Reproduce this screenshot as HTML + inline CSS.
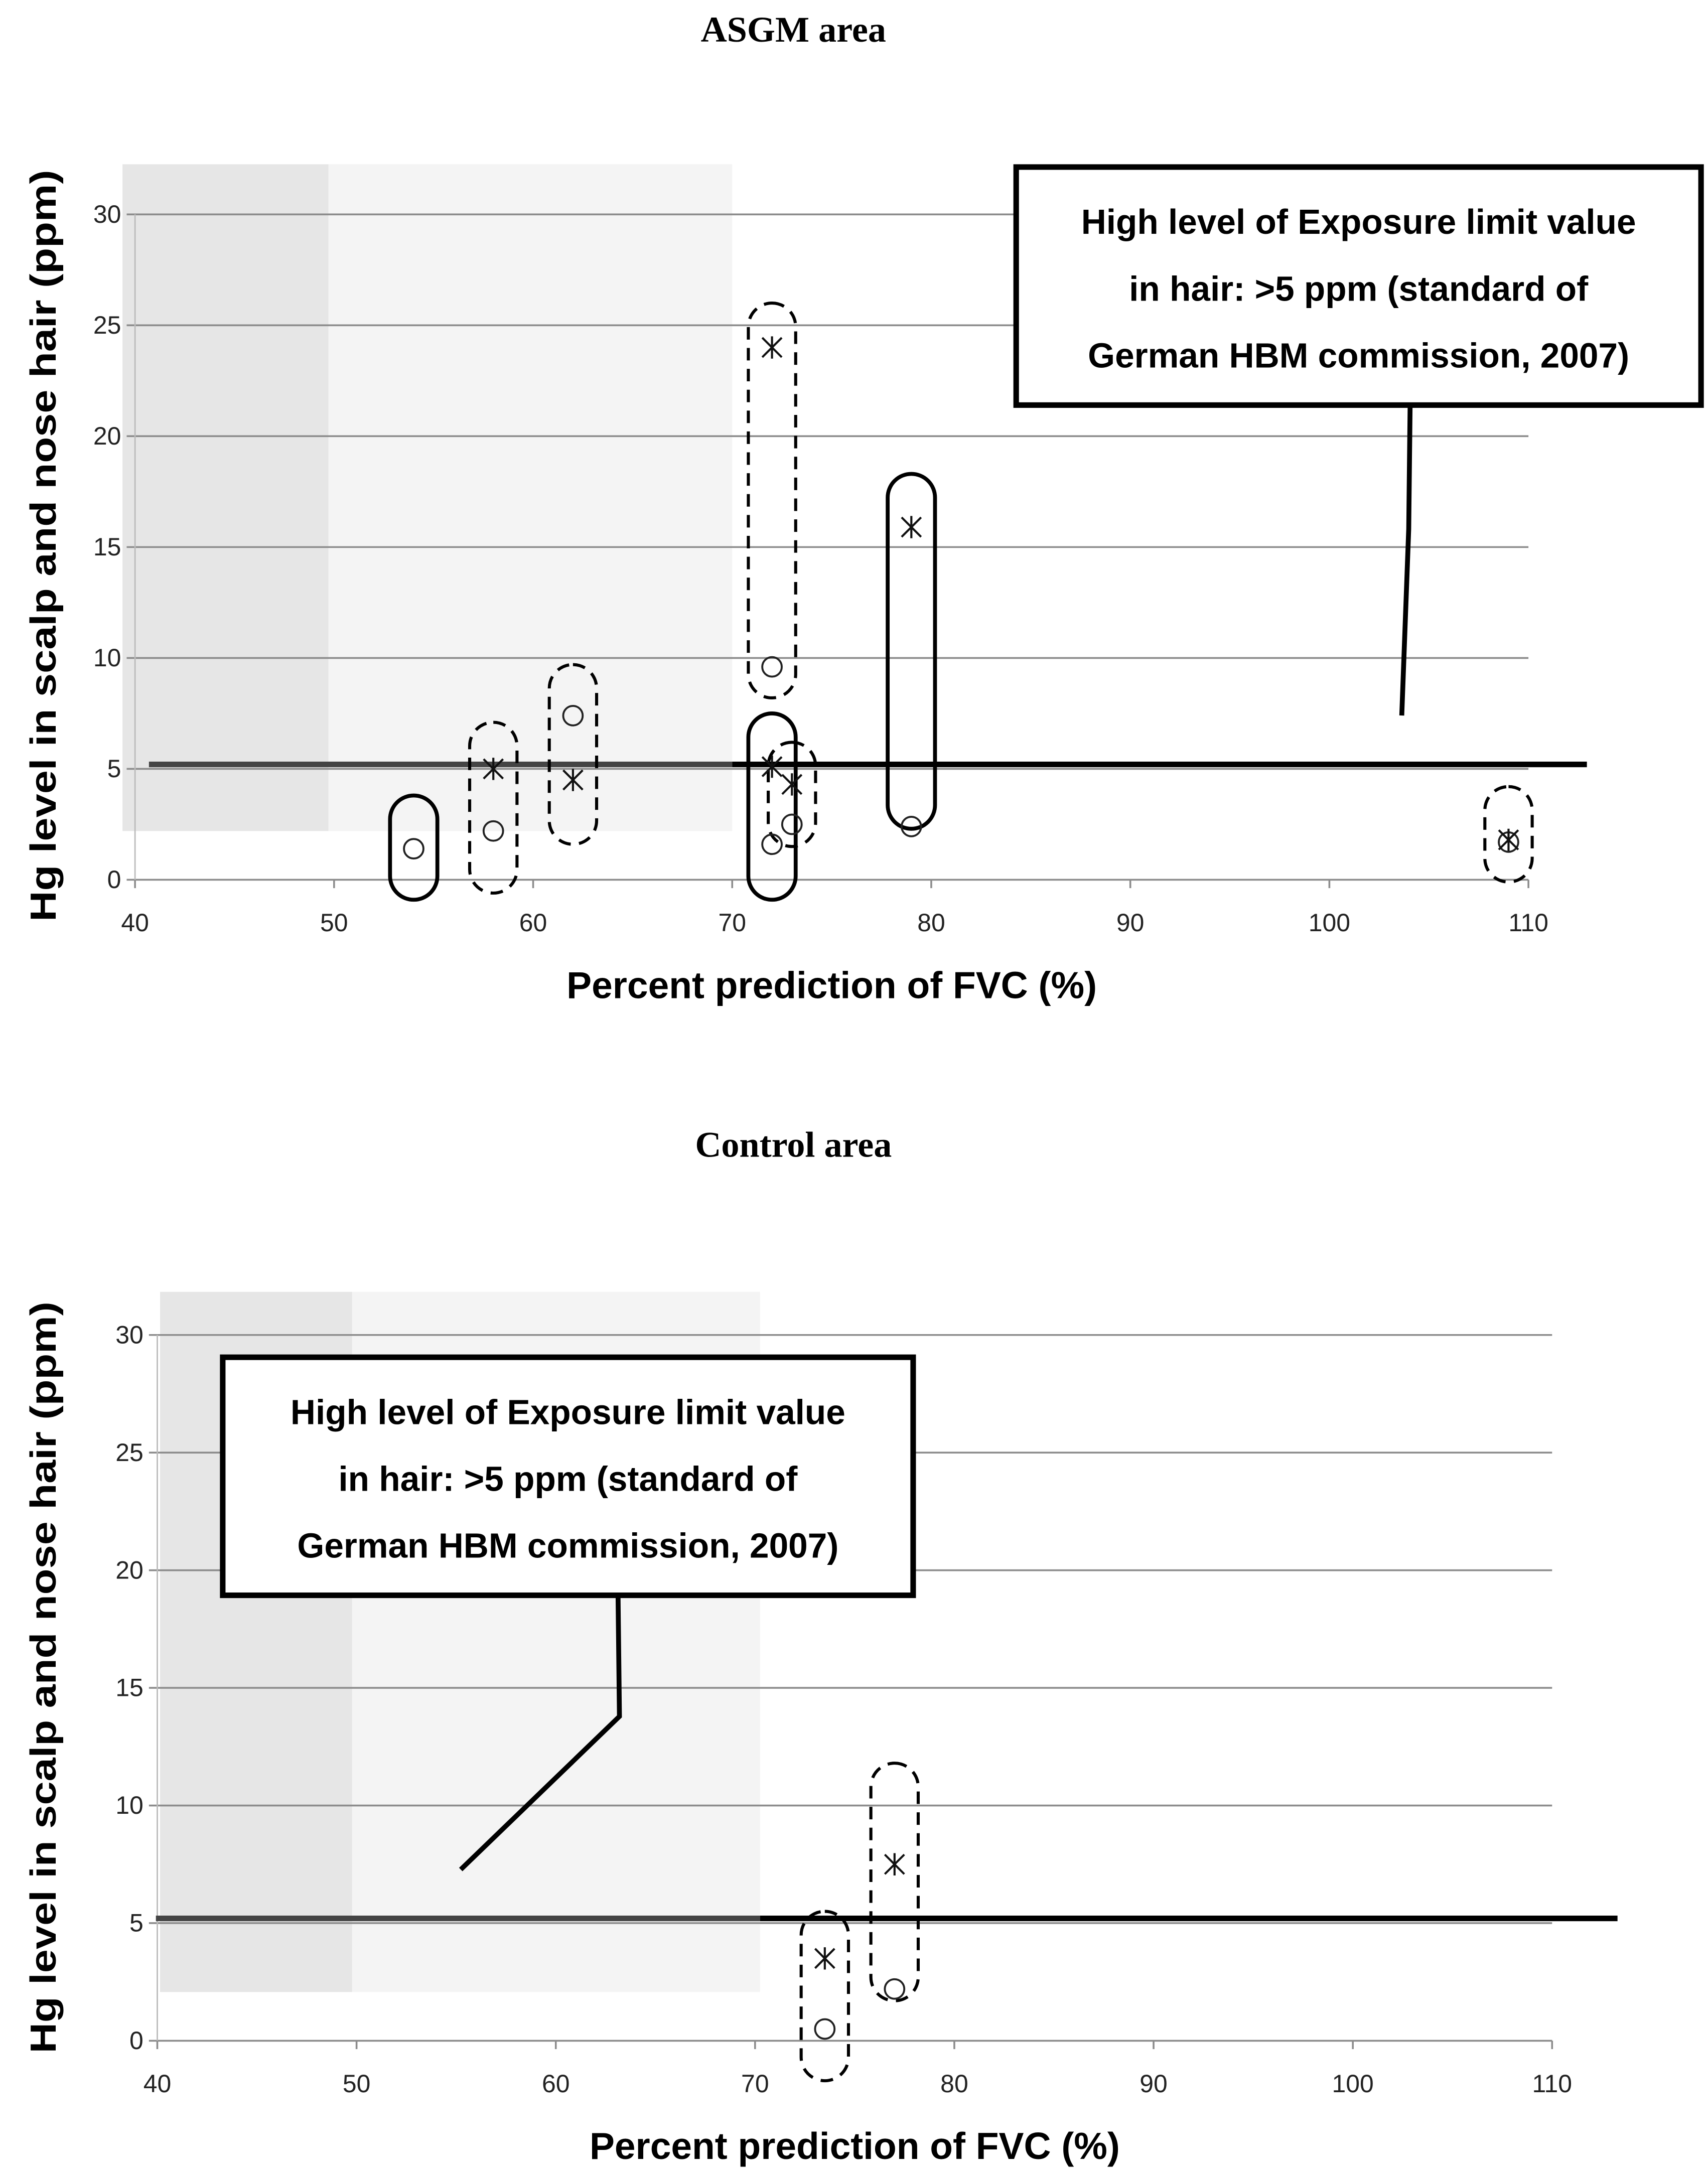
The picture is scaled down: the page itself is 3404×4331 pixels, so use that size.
<!DOCTYPE html>
<html><head><meta charset="utf-8"><style>
html,body{margin:0;padding:0;background:#fff}
svg{display:block}
text{font-family:"Liberation Sans",sans-serif}
.tick{font-family:"Liberation Sans Narrow","Liberation Sans",sans-serif;font-size:18px;fill:#222}
.axl{font-family:"Liberation Sans Narrow","Liberation Sans",sans-serif;font-weight:bold;font-size:27px}
.box{font-family:"Liberation Sans Narrow","Liberation Sans",sans-serif;font-weight:bold;font-size:25px}
.ttl{font-family:"Liberation Serif",serif;font-weight:bold;font-size:26px}
.yl{font-weight:bold;font-size:26px}
</style></head><body>
<svg id="chart" width="3404" height="4331" viewBox="0 0 1227 1561" preserveAspectRatio="none" xmlns="http://www.w3.org/2000/svg"></svg>
<script>
// shared axis ticks
const xTicks = [40,50,60,70,80,90,100,110];
const yTicks = [0,5,10,15,20,25,30];
const limitValue = 5.2;
// ASGM data
const asgmCircleX = [54,58,62,72,72,73,79,109];
const asgmCircleY = [1.4,2.2,7.4,9.6,1.6,2.5,2.4,1.7];
const asgmStarX = [58,62,72,72,73,79,109];
const asgmStarY = [5,4.5,24,5.1,4.3,15.9,1.8];
const asgmGroupX = [54,58,62,72,72,73,79,109];
const asgmGroupLow = [-0.9,-0.6,1.6,8.2,-0.9,1.5,2.3,-0.1];
const asgmGroupHigh = [3.8,7.1,9.7,26,7.5,6.2,18.3,4.2];
const asgmGroupDashed = [0,1,1,1,0,1,0,1];
// Control data
const ctrlCircleX = [73.5,77];
const ctrlCircleY = [0.5,2.2];
const ctrlStarX = [73.5,77];
const ctrlStarY = [3.5,7.5];
const ctrlGroupX = [73.5,77];
const ctrlGroupLow = [-1.7,1.7];
const ctrlGroupHigh = [5.5,11.8];
const ctrlGroupDashed = [1,1];

const NS="http://www.w3.org/2000/svg";
const svg=document.getElementById('chart');
function mk(tag,attrs,parent){const e=document.createElementNS(NS,tag);for(const k in attrs)e.setAttribute(k,attrs[k]);(parent||svg).appendChild(e);return e;}

function drawPanel(p){
  const g=mk('g',{});
  
  
  const sx=v=>p.x0+(v-40)/70*(p.x1-p.x0);
  const sy=v=>p.y0-(v/30)*(p.y0-p.y30);
  const t=mk('text',{x:570,y:p.titleY,'text-anchor':'middle',class:'ttl'},g);t.textContent=p.title;
  
  
  const b1=mk('rect',{x:p.bandX0,y:p.bandTop,width:p.bandX1-p.bandX0,height:p.bandBot-p.bandTop,fill:'#e6e6e6'},g);
  
  
  const b2=mk('rect',{x:p.bandX1,y:p.bandTop,width:p.bandX2-p.bandX1,height:p.bandBot-p.bandTop,fill:'#f4f4f4'},g);
  
  
  yTicks.forEach(v=>{
    const l=mk('line',{x1:p.x0-6,x2:p.x1,y1:sy(v),y2:sy(v),stroke:'#8c8c8c','stroke-width':1.3},g);
    
    
    const tx=mk('text',{x:p.x0-10,y:sy(v)+6,'text-anchor':'end',class:'tick'},g);tx.textContent=v;
    
    
  });
  const ya=mk('line',{x1:p.x0,x2:p.x0,y1:p.y30,y2:p.y0,stroke:'#bbb','stroke-width':1},g);
  
  
  xTicks.forEach(v=>{
    const l=mk('line',{x1:sx(v),x2:sx(v),y1:p.y0,y2:p.y0+6,stroke:'#8c8c8c','stroke-width':1.3},g);
    
    
    const tx=mk('text',{x:sx(v),y:p.y0+37,'text-anchor':'middle',class:'tick'},g);tx.textContent=v;
    
    
  });
  const xl=mk('text',{x:(p.x0+p.x1)/2,y:p.y0+85,'text-anchor':'middle',class:'axl'},g);xl.textContent='Percent prediction of FVC (%)';
  
  
  const cy=p.ylCenter;
  const yl=mk('text',{x:0,y:0,'text-anchor':'middle',class:'yl',textLength:540,lengthAdjust:'spacingAndGlyphs',transform:`translate(40,${cy}) rotate(-90)`},g);yl.textContent='Hg level in scalp and nose hair (ppm)';
  
  
  const ly=sy(limitValue);
  const l1=mk('line',{x1:p.limX0,x2:p.bandX2,y1:ly,y2:ly,stroke:'#444','stroke-width':4},g);
  
  
  const l2=mk('line',{x1:p.bandX2,x2:p.limX1,y1:ly,y2:ly,stroke:'#000','stroke-width':4},g);
  
  
  p.gx.forEach((xv,i)=>{
    const top=sy(p.gh[i]),bot=sy(p.gl[i]),w=p.gw||34;
    const r=mk('rect',{x:sx(xv)-w/2,y:top,width:w,height:bot-top,rx:w/2,ry:w/2,fill:'none',stroke:'#000','stroke-width':p.gd[i]?2.2:2.8,'stroke-dasharray':p.gd[i]?'9,6':'none'},g);
    
    
  });
  p.cx.forEach((xv,i)=>{
    const c=mk('circle',{cx:sx(xv),cy:sy(p.cy[i]),r:7,fill:'none',stroke:'#222','stroke-width':1.4},g);
    
    
  });
  p.sx.forEach((xv,i)=>{
    const X=sx(xv),Y=sy(p.sy[i]),s=7;
    const d=`M${X-s},${Y-s}L${X+s},${Y+s}M${X-s},${Y+s}L${X+s},${Y-s}M${X},${Y-s-1}L${X},${Y+s+1}`;
    const st=mk('path',{d:d,stroke:'#111','stroke-width':1.5,fill:'none'},g);
    
    
  });
  const pl=mk('polyline',{points:p.pointer,fill:'none',stroke:'#000','stroke-width':3.5},g);
  
  
  const bx=mk('rect',{x:p.box[0],y:p.box[1],width:p.box[2],height:p.box[3],fill:'#fff',stroke:'#000','stroke-width':4},g);
  
  
  const lines=['High level of Exposure limit value','in hair: >5 ppm (standard of','German HBM commission, 2007)'];
  lines.forEach((s,i)=>{
    const tx=mk('text',{x:p.box[0]+p.box[2]/2,y:p.box[1]+48+i*48,'text-anchor':'middle',class:'box'},g);tx.textContent=s;
    
    
  });
}

drawPanel({name:'asgm-panel',title:'ASGM area',titleY:30,x0:97,x1:1098,y0:632,y30:154,ylCenter:392,
  bandX0:88,bandX1:236,bandX2:526,bandTop:118,bandBot:597,limX0:107,limX1:1140,
  gx:asgmGroupX,gl:asgmGroupLow,gh:asgmGroupHigh,gd:asgmGroupDashed,
  cx:asgmCircleX,cy:asgmCircleY,sx:asgmStarX,sy:asgmStarY,
  box:[730,120,492,171],pointer:'1013,291 1012,380 1007,514'});
drawPanel({name:'control-panel',title:'Control area',titleY:831,x0:113,x1:1115,y0:1466,y30:959,ylCenter:1205,
  bandX0:115,bandX1:253,bandX2:546,bandTop:928,bandBot:1431,limX0:112,limX1:1162,
  gx:ctrlGroupX,gl:ctrlGroupLow,gh:ctrlGroupHigh,gd:ctrlGroupDashed,
  cx:ctrlCircleX,cy:ctrlCircleY,sx:ctrlStarX,sy:ctrlStarY,
  box:[160,975,496,171],pointer:'444,1146 445,1233 331,1343'});
</script>
</body></html>
